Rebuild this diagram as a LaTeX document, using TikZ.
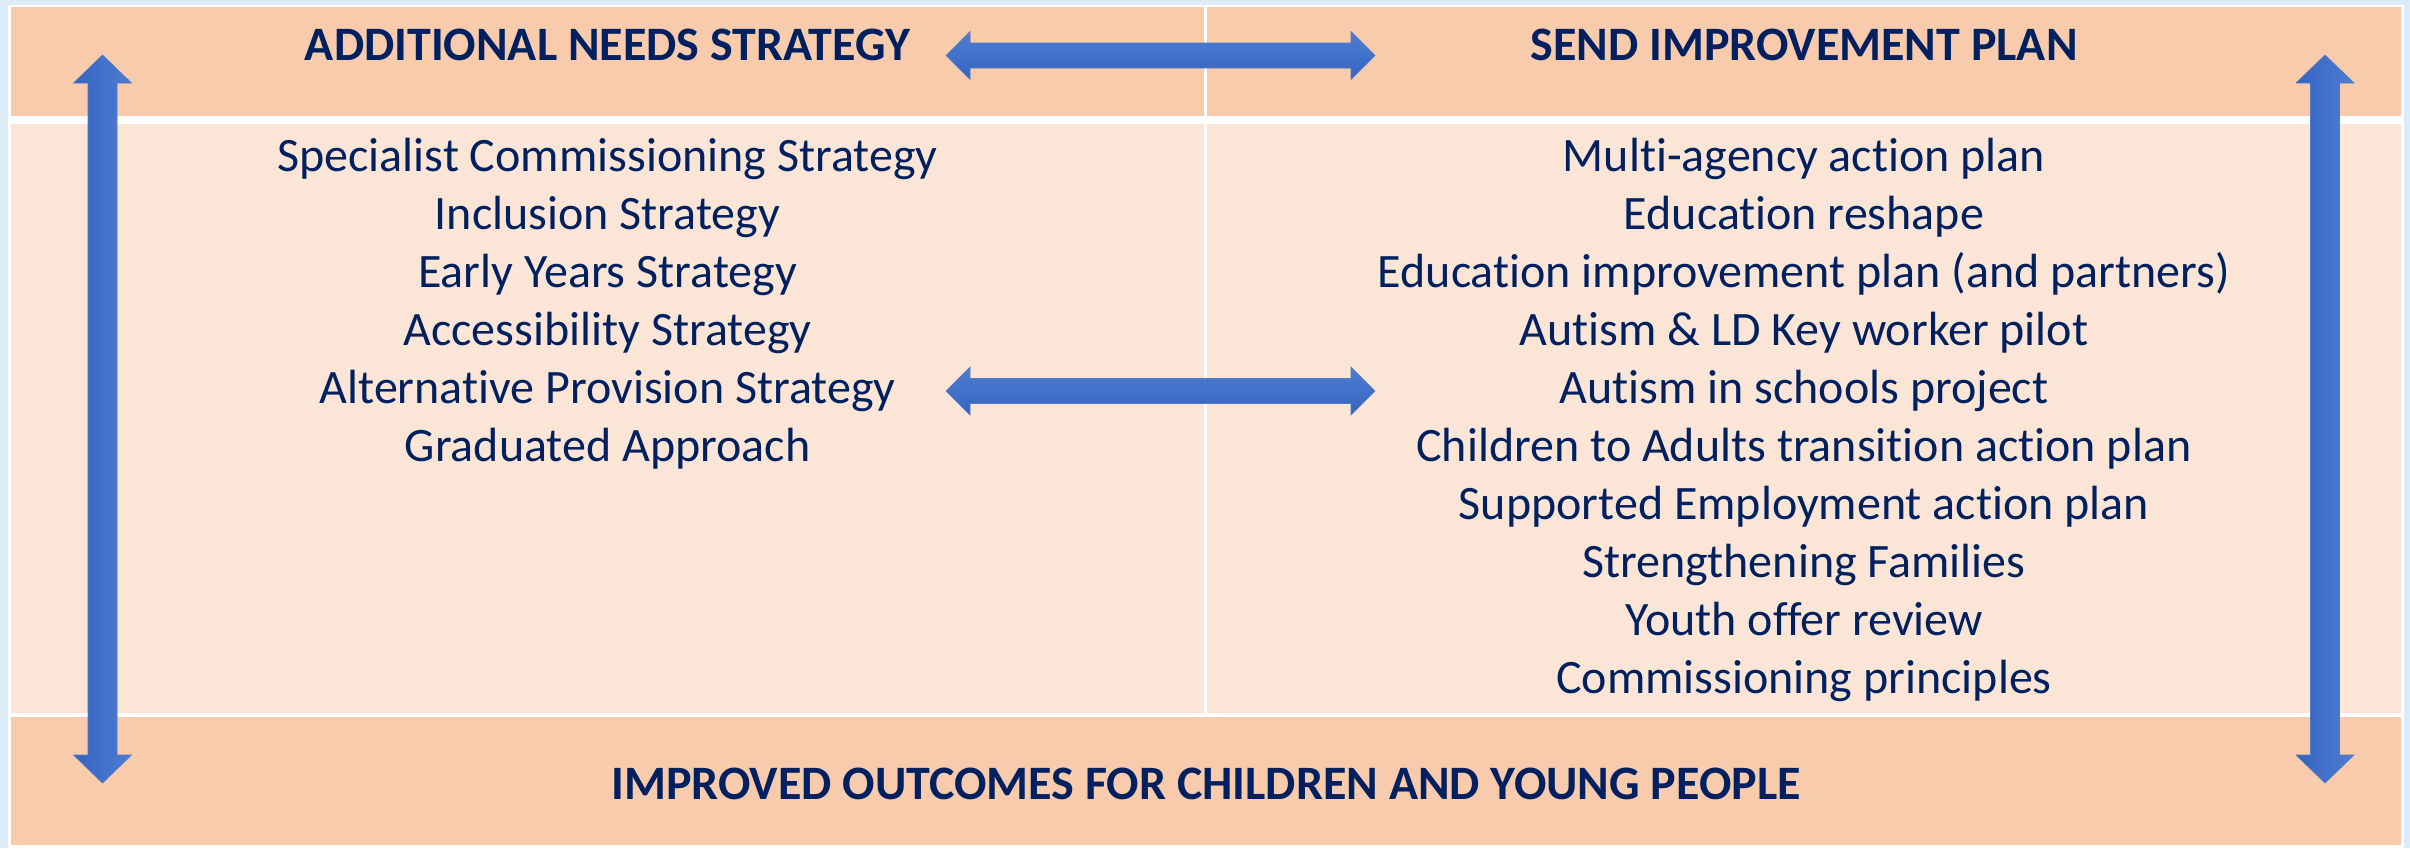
\documentclass[tikz,border=0pt]{standalone}
\usepackage{fontspec}
\setmainfont{Carlito}[Ligatures=NoCommon]
\usetikzlibrary{calc}
\definecolor{bgblue}{RGB}{221,235,247}
\definecolor{hdrorange}{RGB}{248,203,173}
\definecolor{cellpeach}{RGB}{251,229,214}
\definecolor{navy}{RGB}{0,32,96}
\definecolor{arrdark}{RGB}{52,100,194}
\definecolor{arrlight}{RGB}{78,126,207}
\definecolor{arredge}{RGB}{80,120,200}
\tikzset{
  hdrtext/.style={anchor=base,inner sep=0pt,text=navy,font=\fontsize{24}{29}\selectfont\bfseries},
  bodytext/.style={anchor=base,inner sep=0pt,text=navy,font=\fontsize{24}{29}\selectfont},
  varrow/.style={left color=arrdark,right color=arrlight,draw=arredge,line width=0.3pt},
  harrow/.style={top color=arrlight,bottom color=arrdark,draw=arredge,line width=0.3pt},
}
\newcommand\vdblarrow[2]{%
  \path[varrow] (#1) -- ($(#1)+(29,28)$) -- ($(#1)+(14.5,28)$) -- ($(#2)+(14.5,-28)$) -- ($(#2)+(29,-28)$) -- (#2)
    -- ($(#2)+(-29,-28)$) -- ($(#2)+(-14.5,-28)$) -- ($(#1)+(-14.5,28)$) -- ($(#1)+(-29,28)$) -- cycle;}
\newcommand\hdblarrow[2]{%
  \path[harrow] (#1) -- ($(#1)+(24,-24)$) -- ($(#1)+(24,-12.5)$) -- ($(#2)+(-24,-12.5)$) -- ($(#2)+(-24,-24)$) -- (#2)
    -- ($(#2)+(-24,24)$) -- ($(#2)+(-24,12.5)$) -- ($(#1)+(24,12.5)$) -- ($(#1)+(24,24)$) -- cycle;}
\begin{document}
\begin{tikzpicture}[x=0.5pt,y=-0.5pt]
\useasboundingbox (0,0) rectangle (2410,848);
% backgrounds
\fill[bgblue] (0,0) rectangle (2410,848);
\fill[white] (8,5) rectangle (2404,848);
\fill[hdrorange] (11,7) rectangle (1204,116);
\fill[hdrorange] (1207,7) rectangle (2401,116);
\fill[cellpeach] (11,124) rectangle (1204,713);
\fill[cellpeach] (1207,124) rectangle (2401,713);
\fill[hdrorange] (11,717) rectangle (2401,845);
% headers
\node[hdrtext] (hleft) at (607.5,60) {ADDITIONAL NEEDS STRATEGY};
\node[hdrtext] (hright) at (1804,60) {SEND IMPROVEMENT PLAN};
\node[hdrtext] (footer) at (1206,799) {IMPROVED OUTCOMES FOR CHILDREN AND YOUNG PEOPLE};
% left column
\foreach \t [count=\i from 0] in {Specialist Commissioning Strategy,Inclusion Strategy,Early Years Strategy,Accessibility Strategy,Alternative Provision Strategy,Graduated Approach}
  \node[bodytext] (l\i) at (607.5,171+58*\i) {\t};
% right column
\foreach \t [count=\i from 0] in {Multi-agency action plan,Education reshape,Education improvement plan (and partners),{Autism \& LD Key worker pilot},Autism in schools project,Children to Adults transition action plan,Supported Employment action plan,Strengthening Families,Youth offer review,Commissioning principles}
  \node[bodytext] (r\i) at (1804,171+58*\i) {\t};
% arrows
\coordinate (ltop) at (102.5,55);
\coordinate (lbot) at (102.5,783);
\coordinate (rtop) at (2325,55);
\coordinate (rbot) at (2325,783);
\coordinate (tl) at (946,55.5);
\coordinate (tr) at (1375,55.5);
\coordinate (ml) at (946,391);
\coordinate (mr) at (1375,391);
\vdblarrow{ltop}{lbot}
\vdblarrow{rtop}{rbot}
\hdblarrow{tl}{tr}
\hdblarrow{ml}{mr}
\end{tikzpicture}
\end{document}
